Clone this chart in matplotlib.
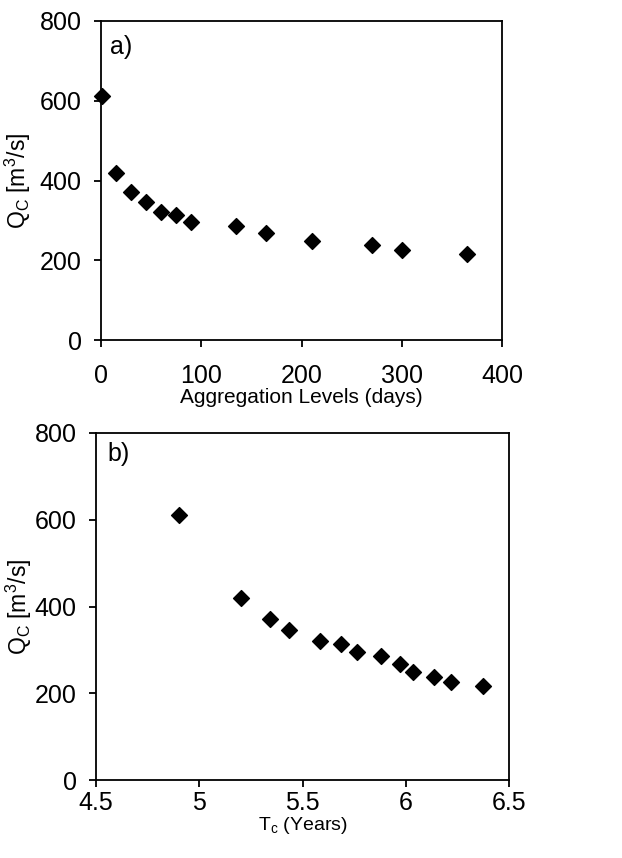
import matplotlib
matplotlib.use("Agg")
import matplotlib.pyplot as plt

plt.rcParams['font.family'] = ['Liberation Sans', 'DejaVu Sans']
plt.rcParams['mathtext.fontset'] = 'custom'
plt.rcParams['mathtext.rm'] = 'Liberation Sans'

# Data
agg_days = [1, 15, 30, 45, 60, 75, 90, 135, 165, 210, 270, 300, 365]
qc = [612, 420, 372, 345, 321, 313, 296, 285, 268, 248, 237, 226, 216]
tc_years = [4.90, 5.20, 5.345, 5.437, 5.585, 5.686, 5.766, 5.881, 5.971, 6.034, 6.136, 6.22, 6.376]

W, H = 622, 858
fig = plt.figure(figsize=(W / 100, H / 100), dpi=100)

def rect(l, t, r, b):
    return [l / W, 1 - b / H, (r - l) / W, (b - t) / H]

ax1 = fig.add_axes(rect(101, 21, 502, 340))
ax2 = fig.add_axes(rect(96, 433, 509, 780))

ylab = r'Q$_\mathregular{C}$ [m$^\mathregular{3}$/s]'

for ax in (ax1, ax2):
    ax.set_ylim(0, 800)
    ax.set_yticks([0, 200, 400, 600, 800])
    for s in ax.spines.values():
        s.set_linewidth(1.3)
        s.set_color('black')
    ax.tick_params(axis='both', direction='out', length=5, width=1.3,
                   labelsize=18, top=False, right=False)
    ax.set_ylabel(ylab, fontsize=16.5)

ax1.yaxis.set_label_coords(-0.17, 0.5)
ax2.yaxis.set_label_coords(-0.15, 0.5)

ax1.tick_params(axis='y', pad=9)
ax1.tick_params(axis='x', pad=12)
ax2.tick_params(axis='y', pad=9)
ax2.tick_params(axis='x', pad=3)

ax1.scatter(agg_days, qc, marker='D', s=65, color='black', zorder=3, clip_on=False)
ax1.set_xlim(0, 400)
ax1.set_xticks([0, 100, 200, 300, 400])
ax1.set_xlabel('Aggregation Levels (days)', fontsize=15, labelpad=0)
ax1.text(0.022, 0.955, 'a)', transform=ax1.transAxes, fontsize=18, va='top')

ax2.scatter(tc_years, qc, marker='D', s=65, color='black', zorder=3, clip_on=False)
ax2.set_xlim(4.5, 6.5)
ax2.set_xticks([4.5, 5, 5.5, 6, 6.5])
ax2.set_xticklabels(['4.5', '5', '5.5', '6', '6.5'])
ax2.set_xlabel(r'T$_\mathregular{c}$ (Years)', fontsize=14, labelpad=0)
ax2.text(0.027, 0.975, 'b)', transform=ax2.transAxes, fontsize=18, va='top')

fig.savefig('out.png', dpi=100)
